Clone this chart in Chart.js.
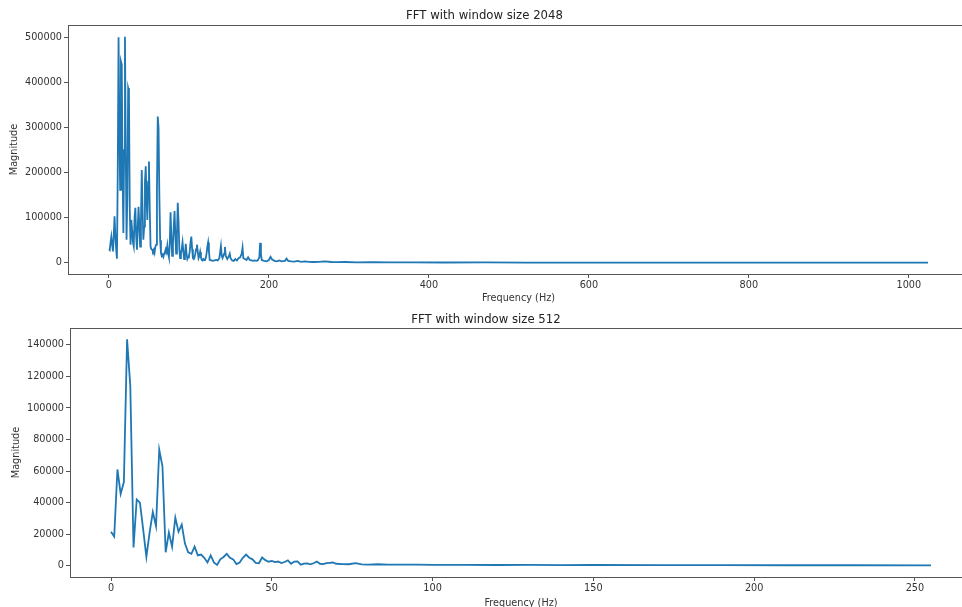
<!DOCTYPE html>
<html>
<head>
<meta charset="utf-8">
<script src="https://cdn.jsdelivr.net/npm/chart.js@4"></script>
<style>
  html, body { margin: 0; padding: 0; background: #fff; overflow: hidden; width: 962px; height: 607px; }
  canvas { position: absolute; left: 0; }
  #fft2048 { top: 0; }
  #fft512 { top: 304px; }
</style>
</head>
<body>
<canvas id="fft2048" width="980" height="304"></canvas>
<canvas id="fft512" width="985" height="305"></canvas>
<script>
// spectrum, window size 2048 (Hz, magnitude)
const freq2048 = [0,1,2,3,4,5,6,7,8,9,10,11,12,13,14,15,16,17,18,19,20,21,22,23,24,25,26,27,28,29,
  30,31,32,33,34,35,36,37,38,39,40,41,42,43,44,45,46,47,48,49,50,51,52,53,54,55,56,57,58,59,
  60,61,62,63,64,65,66,67,68,69,70,71,72,73,74,75,76,77,78,79,80,81,82,83,84,85,86,87,88,89,
  90,91,92,93,94,95,96,97,98,99,100,101,102,103,104,105,106,107,108,109,110,111,112,113,114,115,116,117,118,119,
  120,121,122,123,124,125,126,128,130,132,134,136,138,140,141,142,144,145,146,148,150,151,152,154,156,158,
  160,162,164,166,167,168,170,172,174,176,178,180,182,184,186,188,189,190,191,194,197,200,202,204,207,210,
  213,216,220,222,224,228,232,236,240,245,250,256,262,270,278,286,295,310,330,350,380,420,470,520,600,700,800,900,1024];
const mag2048 = [30000,28000,45000,58000,40000,25000,60000,103000,60000,30000,9000,200000,501000,300000,162000,447000,440000,200000,66000,250000,
  502000,250000,51000,150000,388000,380000,120000,40000,95000,70000,
  45000,36000,100000,122000,60000,29000,80000,124000,80000,36000,90000,206000,120000,51000,80000,180000,214000,140000,95000,180000,
  225000,120000,36000,30000,29000,25000,29000,22000,35000,40000,
  160000,325000,300000,150000,50000,22000,15000,18000,13000,20000,24000,30000,24000,38000,20000,12000,40000,112000,60000,15000,
  40000,80000,115000,60000,20000,60000,133000,90000,30000,10000,
  20000,30000,45000,25000,8000,15000,42000,20000,8000,12000,15000,25000,45000,58000,30000,10000,8000,12000,20000,30000,
  40000,25000,10000,15000,24000,12000,6000,5000,8000,6000,
  7000,10000,20000,35000,45000,25000,6000,5000,4000,5000,6000,5000,10000,37000,15000,10000,20000,35000,15000,8000,
  15000,20000,10000,5000,4000,8000,
  5000,10000,12000,20000,33000,10000,8000,6000,12000,6000,5000,4000,5000,4000,5000,12000,44000,20000,6000,4000,3000,6000,13000,7000,4000,3000,
  5000,3000,4000,9000,4000,3000,2500,4000,2000,3000,2000,1500,2000,3000,1500,1200,1500,800,1000,600,800,400,500,300,300,200,200,150,100];
const xTicks2048 = [0, 200, 400, 600, 800, 1000];
const yTicks2048 = [0, 100000, 200000, 300000, 400000, 500000];

// spectrum, window size 512 (Hz, magnitude)
const freq512 = [0,1,2,3,4,5,6,7,8,9,10,11,12,13,14,15,16,17,18,19,20,21,22,23,24,25,26,27,28,29,
  30,31,32,33,34,35,36,37,38,39,40,41,42,43,44,45,46,47,48,49,50,51,52,53,54,55,56,57,58,59,
  60,61,62,63,64,65,66,67,68,69,70,72,74,76,78,80,83,86,90,95,100,110,120,130,140,150,170,190,210,230,255];
const mag512 = [21500,18500,61000,45500,53000,143500,114000,11500,42000,40000,23000,5500,21000,34000,25000,73500,63000,8500,21000,12000,
  30500,21500,26000,14000,8500,7500,12000,6500,7000,5000,
  2000,6500,2000,500,4000,5500,7500,5000,4000,1000,2000,5000,7000,5000,4000,1800,1500,5200,3500,2500,
  3000,2200,2600,1600,2300,3400,1200,2600,2700,600,
  1300,1400,800,1500,2600,1200,1000,1600,1800,2000,1200,1000,900,1600,800,700,900,600,700,600,500,500,400,450,350,400,300,300,250,250,200];
const xTicks512 = [0, 50, 100, 150, 200, 250];
const yTicks512 = [0, 20000, 40000, 60000, 80000, 100000, 120000, 140000];

const lineColor = '#1f77b4';
const inkColor = '#333';
const spineColor = '#555';

// box around the plot area, drawn on top of the line
const spines = {
  id: 'spines',
  afterDatasetsDraw(chart) {
    const a = chart.chartArea;
    const c = chart.ctx;
    c.save();
    c.strokeStyle = spineColor;
    c.lineWidth = 1;
    c.strokeRect(Math.round(a.left) + 0.5, Math.round(a.top) + 0.5, Math.round(a.right - a.left), Math.round(a.bottom - a.top));
    c.restore();
  }
};

function toPoints(xs, ys) {
  return xs.map((x, i) => ({x: x, y: ys[i]}));
}

function fixedTicks(values) {
  return s => { s.ticks = values.map(v => ({value: v})); };
}

const tickFont = { family: 'DejaVu Sans', size: 9.7 };

function makeChart(id, cfg) {
  return new Chart(document.getElementById(id), {
    type: 'line',
    data: {
      datasets: [{
        data: toPoints(cfg.xs, cfg.ys),
        borderColor: lineColor,
        borderWidth: 1.8,
        pointRadius: 0,
        tension: 0,
        fill: false
      }]
    },
    options: {
      responsive: false,
      animation: false,
      devicePixelRatio: 1,
      layout: { padding: { left: 0, right: cfg.padRight, top: 0, bottom: 0 } },
      plugins: {
        legend: { display: false },
        tooltip: { enabled: false },
        title: {
          display: true,
          text: cfg.title,
          color: '#222',
          font: { family: 'DejaVu Sans', size: 11.7, weight: 'normal', lineHeight: 1.2 },
          padding: { top: 9, bottom: cfg.titleGap }
        }
      },
      scales: {
        x: {
          type: 'linear',
          min: cfg.xMin,
          max: cfg.xMax,
          afterBuildTicks: fixedTicks(cfg.xTicks),
          afterFit: s => { s.height = cfg.xHeight; },
          border: { display: false },
          grid: { drawOnChartArea: false, drawTicks: true, tickLength: 4, color: spineColor },
          ticks: { padding: 2, color: inkColor, font: tickFont, maxRotation: 0, autoSkip: false,
                   callback: v => String(v) },
          title: { display: true, text: 'Frequency (Hz)', color: inkColor, padding: { top: 0, bottom: 0 },
                   font: { family: 'DejaVu Sans', size: 9.7, lineHeight: 1.2 } }
        },
        y: {
          type: 'linear',
          min: cfg.yMin,
          max: cfg.yMax,
          afterBuildTicks: fixedTicks(cfg.yTicks),
          afterFit: s => { s.width = cfg.yWidth; },
          border: { display: false },
          grid: { drawOnChartArea: false, drawTicks: true, tickLength: 4, color: spineColor },
          ticks: { padding: 2, color: inkColor, font: tickFont, autoSkip: false,
                   callback: v => String(v) },
          title: { display: true, text: 'Magnitude', color: inkColor, padding: { top: cfg.yTitlePad, bottom: 0 },
                   font: { family: 'DejaVu Sans', size: 9.7, lineHeight: 1.2 } }
        }
      }
    },
    plugins: [spines]
  });
}

makeChart('fft2048', {
  xs: freq2048, ys: mag2048, xTicks: xTicks2048, yTicks: yTicks2048,
  title: 'FFT with window size 2048',
  xMin: -51.2, xMax: 1075.2,
  yMin: -25150, yMax: 528150,
  padRight: 11, titleGap: 2, xHeight: 30, yWidth: 68, yTitlePad: 9
});

makeChart('fft512', {
  xs: freq512, ys: mag512, xTicks: xTicks512, yTicks: yTicks512,
  title: 'FFT with window size 512',
  xMin: -12.75, xMax: 267.75,
  yMin: -7200, yMax: 150700,
  padRight: 13, titleGap: 1, xHeight: 32, yWidth: 70, yTitlePad: 11
});
</script>
</body>
</html>
